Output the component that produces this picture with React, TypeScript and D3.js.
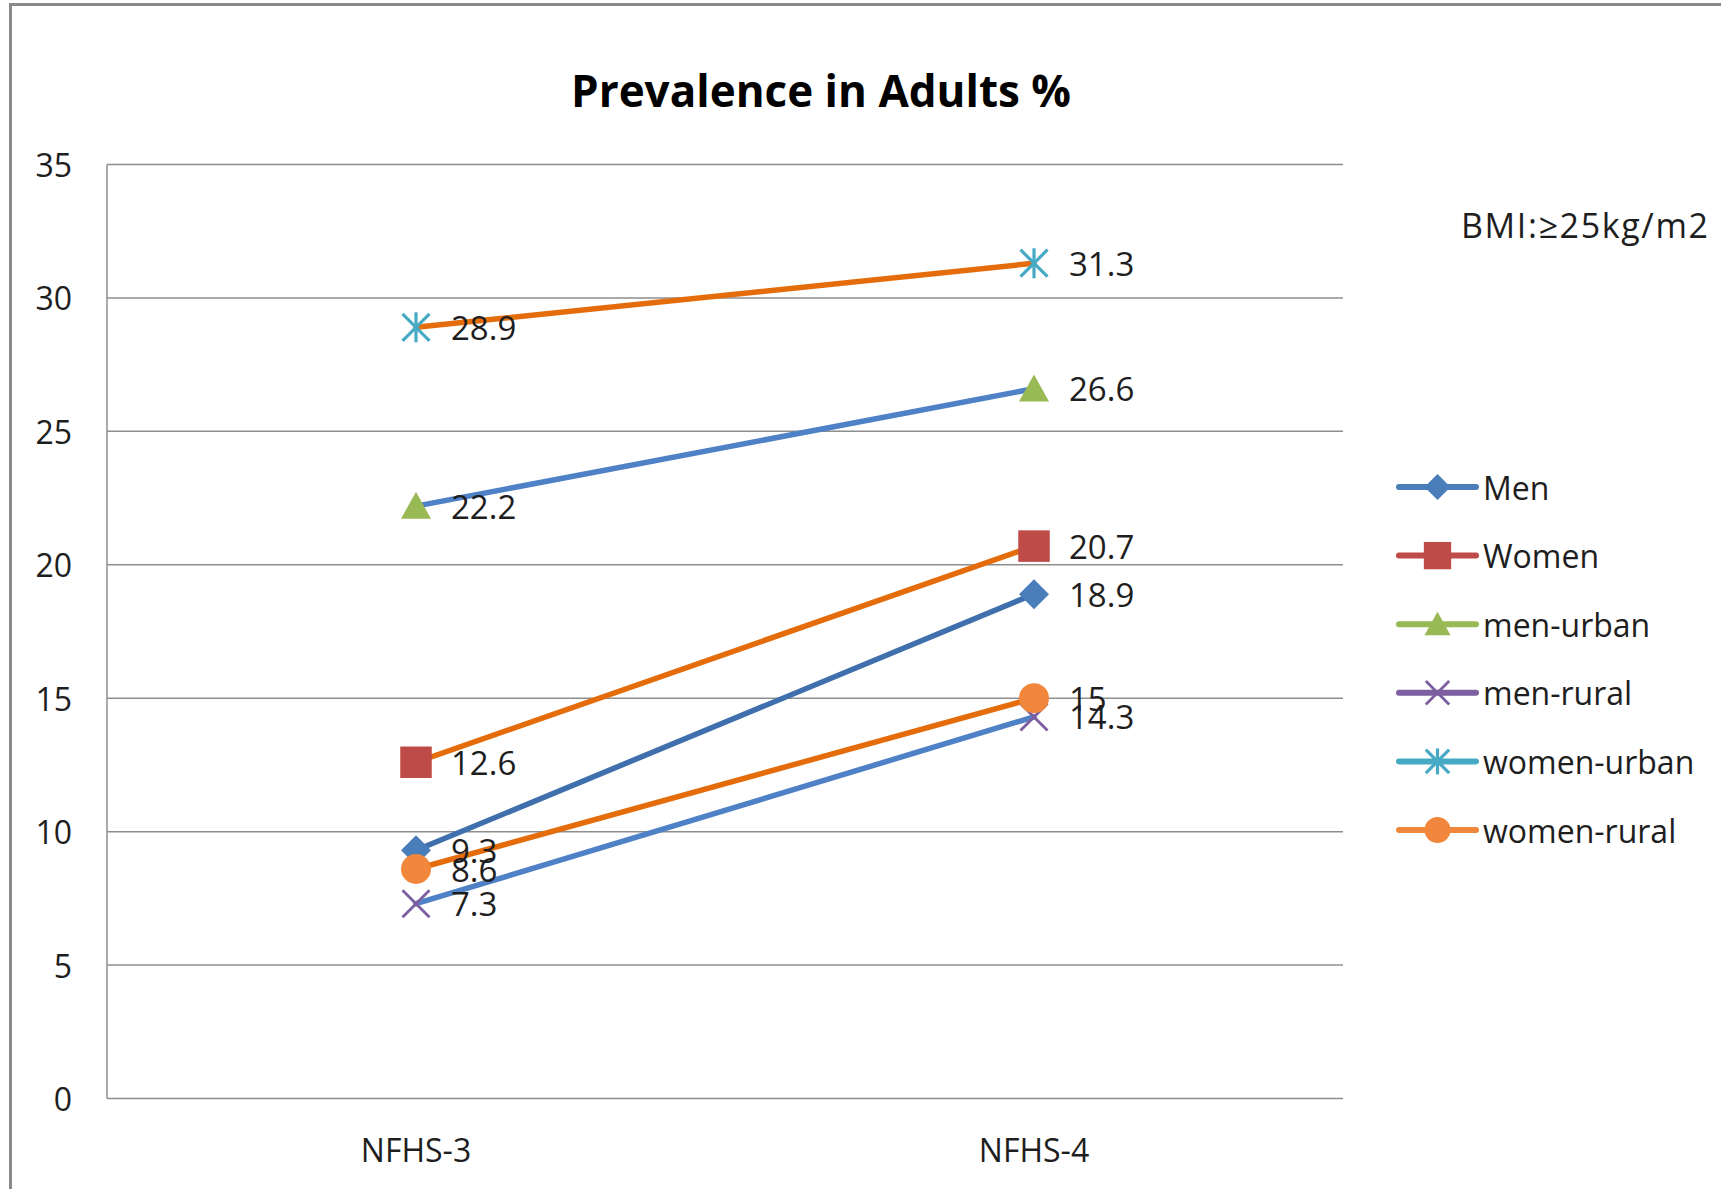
import React from "react";
import * as d3 from "d3";

// Survey rounds on the x axis
const categories = ["NFHS-3", "NFHS-4"];

// Series names in legend order
const seriesNames = ["Men", "Women", "men-urban", "men-rural", "women-urban", "women-rural"];

// Prevalence (%) per series for NFHS-3 and NFHS-4
const nfhs3Values = [9.3, 12.6, 22.2, 7.3, 28.9, 8.6];
const nfhs4Values = [18.9, 20.7, 26.6, 14.3, 31.3, 15];

// Marker shapes per series
const markerShapes = ["diamond", "square", "triangle", "x", "star", "circle"];

// Marker colours (also used for legend lines)
const markerColors = ["#4A7EBB", "#BE4B48", "#98B954", "#7D5FA0", "#46AAC5", "#F0873C"];

// Colours of the connecting lines in the plot
const lineColors = ["#3F6FAD", "#E46C0A", "#4F81C6", "#4F81C6", "#E46C0A", "#E46C0A"];

const yTicks = [0, 5, 10, 15, 20, 25, 30, 35];

const W = 1721;
const H = 1189;
const FONT = "'Open Sans', 'Noto Sans', sans-serif";
const TEXT = "#1e1e1e";
const GRID = "#8e8e8e";

function Marker({ shape, x, y, color, s }: { shape: string; x: number; y: number; color: string; s: number }) {
  const h = s / 2;
  if (shape === "diamond") {
    const p = d3.path();
    p.moveTo(x, y - h);
    p.lineTo(x + h, y);
    p.lineTo(x, y + h);
    p.lineTo(x - h, y);
    p.closePath();
    return <path d={p.toString()} fill={color} />;
  }
  if (shape === "square") {
    const q = h * 1.05;
    return <rect x={x - q} y={y - q} width={q * 2} height={q * 2} fill={color} />;
  }
  if (shape === "triangle") {
    const p = d3.path();
    p.moveTo(x, y - h * 0.95);
    p.lineTo(x + h, y + h * 0.85);
    p.lineTo(x - h, y + h * 0.85);
    p.closePath();
    return <path d={p.toString()} fill={color} />;
  }
  if (shape === "circle") {
    return <circle cx={x} cy={y} r={h} fill={color} />;
  }
  if (shape === "x") {
    const q = h * 0.9;
    return (
      <g stroke={color} strokeWidth={2.8}>
        <line x1={x - q} y1={y - q} x2={x + q} y2={y + q} />
        <line x1={x - q} y1={y + q} x2={x + q} y2={y - q} />
      </g>
    );
  }
  // star: X with a vertical bar
  const q = h * 0.9;
  return (
    <g stroke={color} strokeWidth={3.2}>
      <line x1={x - q} y1={y - q} x2={x + q} y2={y + q} />
      <line x1={x - q} y1={y + q} x2={x + q} y2={y - q} />
      <line x1={x} y1={y - h} x2={x} y2={y + h} />
    </g>
  );
}

export default function App() {
  const plotLeft = 107;
  const plotRight = 1343;
  const plotTop = 164.5;
  const plotBottom = 1098.5;

  const x = d3.scalePoint<string>().domain(categories).range([plotLeft, plotRight]).padding(0.5);
  const y = d3.scaleLinear().domain([0, 35]).range([plotBottom, plotTop]);

  const series = seriesNames.map((name, i) => ({
    name,
    shape: markerShapes[i],
    marker: markerColors[i],
    line: lineColors[i],
    values: [nfhs3Values[i], nfhs4Values[i]],
  }));

  const lineGen = d3
    .line<number>()
    .x((_, j) => x(categories[j]) as number)
    .y((v) => y(v));

  const legendX0 = 1399;
  const legendX1 = 1476;
  const legendY = d3.scalePoint<string>().domain(seriesNames).range([487, 830]);

  return (
    <div style={{ position: "absolute", left: 0, top: 0 }}>
      <svg width={W} height={H} style={{ display: "block", background: "#fff" }}>
        <rect x={0} y={0} width={W} height={H} fill="#fff" />
        {/* chart frame */}
        <rect x={10.5} y={4.5} width={W + 20} height={H + 20} fill="none" stroke="#8a8a8a" strokeWidth={3} />

        {/* title */}
        <text x={821} y={107} textAnchor="middle" fontFamily={FONT} fontWeight={700} fontSize={44} fill="#000">
          Prevalence in Adults %
        </text>

        {/* gridlines and y ticks */}
        {yTicks.map((t) => (
          <g key={t}>
            <line x1={plotLeft} x2={plotRight} y1={y(t)} y2={y(t)} stroke={GRID} strokeWidth={1.5} />
            <text
              x={72}
              y={y(t)}
              textAnchor="end"
              dominantBaseline="central"
              fontFamily={FONT}
              fontSize={32}
              fill={TEXT}
            >
              {t}
            </text>
          </g>
        ))}
        <line x1={plotLeft} x2={plotLeft} y1={plotTop} y2={plotBottom} stroke={GRID} strokeWidth={1.5} />

        {/* category labels */}
        {categories.map((c) => (
          <text
            key={c}
            x={x(c)}
            y={1149}
            textAnchor="middle"
            dominantBaseline="central"
            fontFamily={FONT}
            fontSize={32}
            fill={TEXT}
          >
            {c}
          </text>
        ))}

        {/* series lines and markers */}
        {series.map((s) => (
          <g key={s.name}>
            <path d={lineGen(s.values) as string} fill="none" stroke={s.line} strokeWidth={5.5} strokeLinecap="round" />
            {s.values.map((v, j) => (
              <Marker key={j} shape={s.shape} x={x(categories[j]) as number} y={y(v)} color={s.marker} s={30} />
            ))}
          </g>
        ))}

        {/* data labels */}
        {series.map((s) =>
          s.values.map((v, j) => (
            <text
              key={s.name + j}
              x={(x(categories[j]) as number) + 35}
              y={y(v)}
              dominantBaseline="central"
              fontFamily={FONT}
              fontSize={33}
              fill={TEXT}
            >
              {v}
            </text>
          ))
        )}

        {/* note */}
        <text
          x={1461}
          y={225}
          dominantBaseline="central"
          fontFamily={FONT}
          fontSize={34}
          textLength={247}
          lengthAdjust="spacing"
          fill={TEXT}
        >
          BMI:≥25kg/m2
        </text>

        {/* legend */}
        {series.map((s) => {
          const ly = legendY(s.name) as number;
          return (
            <g key={s.name}>
              <line x1={legendX0} x2={legendX1} y1={ly} y2={ly} stroke={s.marker} strokeWidth={6} strokeLinecap="round" />
              <Marker shape={s.shape} x={(legendX0 + legendX1) / 2} y={ly} color={s.marker} s={26} />
              <text x={1483} y={ly} dominantBaseline="central" fontFamily={FONT} fontSize={32} fill={TEXT}>
                {s.name}
              </text>
            </g>
          );
        })}
      </svg>
    </div>
  );
}
